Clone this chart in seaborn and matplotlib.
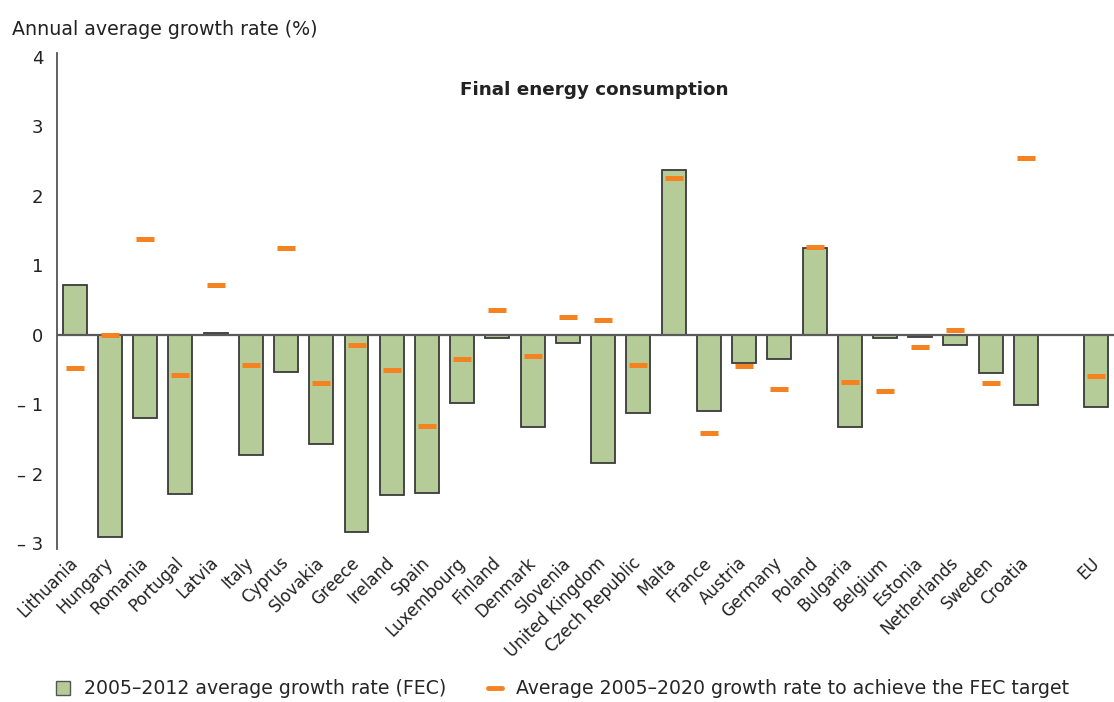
import matplotlib
matplotlib.use("Agg")
import matplotlib.pyplot as plt
from matplotlib.patches import Patch
from matplotlib.lines import Line2D
import numpy as np
import pandas as pd
import seaborn as sns

# Countries in plotted order (EU separated by one empty slot)
countries = ["Lithuania", "Hungary", "Romania", "Portugal", "Latvia", "Italy", "Cyprus",
             "Slovakia", "Greece", "Ireland", "Spain", "Luxembourg", "Finland", "Denmark",
             "Slovenia", "United Kingdom", "Czech Republic", "Malta", "France", "Austria",
             "Germany", "Poland", "Bulgaria", "Belgium", "Estonia", "Netherlands", "Sweden",
             "Croatia", "EU"]
positions = list(range(28)) + [29]

# 2005-2012 average annual growth rate of final energy consumption (%)
fec_2005_2012 = [0.72, -2.91, -1.19, -2.29, 0.03, -1.73, -0.53, -1.57, -2.83, -2.31,
                 -2.28, -0.98, -0.04, -1.33, -0.12, -1.85, -1.12, 2.37, -1.09, -0.41,
                 -0.35, 1.25, -1.33, -0.05, -0.03, -0.14, -0.55, -1.01, -1.04]

# Average 2005-2020 growth rate needed to reach the FEC target (%)
target_2005_2020 = [-0.48, 0.0, 1.38, -0.58, 0.72, -0.43, 1.25, -0.69, -0.14, -0.50,
                    -1.31, -0.35, 0.36, -0.31, 0.26, 0.22, -0.44, 2.26, -1.41, -0.45,
                    -0.78, 1.27, -0.68, -0.81, -0.17, 0.07, -0.69, 2.55, -0.59]

yticks = [4, 3, 2, 1, 0, -1, -2, -3]
ytick_labels = ["4", "3", "2", "1", "0", "\u2013 1", "\u2013 2", "\u2013 3"]

bar_color = "#b5cc98"
mark_color = "#f58220"

df = pd.DataFrame({"pos": positions, "country": countries,
                   "fec": fec_2005_2012, "target": target_2005_2020})

sns.set_style("white")
plt.rcParams["font.family"] = ["DejaVu Sans"]

fig = plt.figure(figsize=(11.14, 7.02), dpi=100)
ax = fig.add_axes([0.0512, 0.218, 0.9488, 0.706])

sns.barplot(data=df, x="pos", y="fec", native_scale=True, width=0.68,
            color=bar_color, edgecolor="#3a3a3a", linewidth=1.3, saturation=1,
            ax=ax, zorder=2)
sns.scatterplot(data=df, x="pos", y="target", marker="_", s=170, linewidth=3.6,
                color=mark_color, edgecolor=mark_color, ax=ax, zorder=4, legend=False)

ax.axhline(0, color="#5a5a5a", linewidth=1.6, zorder=3)

ax.set_xlim(-0.5, 29.5)
ax.set_ylim(-3.08, 4.05)
ax.set_yticks(yticks)
ax.set_yticklabels(ytick_labels, fontsize=13, color="#222222")
ax.set_xticks(positions)
ax.set_xticklabels(countries, rotation=45, ha="right", va="center",
                   rotation_mode="anchor", fontsize=12, color="#222222")
ax.tick_params(axis="both", length=0)
ax.tick_params(axis="y", pad=10)
ax.tick_params(axis="x", pad=8)
ax.set_xlabel("")
ax.set_ylabel("")

for side in ["top", "right", "bottom"]:
    ax.spines[side].set_visible(False)
ax.spines["left"].set_color("#555555")
ax.spines["left"].set_linewidth(1.3)

ax.text(0.508, 0.926, "Final energy consumption", transform=ax.transAxes,
        ha="center", va="center", fontsize=13.2, fontweight="bold", color="#222222")

fig.text(0.011, 0.958, "Annual average growth rate (%)", ha="left", va="center",
         fontsize=13.7, color="#222222")

handles = [
    Patch(facecolor=bar_color, edgecolor="#555555", linewidth=1.0,
          label="2005\u20132012 average growth rate (FEC)"),
    Line2D([0], [0], color=mark_color, linewidth=3.5,
           label="Average 2005\u20132020 growth rate to achieve the FEC target"),
]
fig.legend(handles=handles, loc="lower center", bbox_to_anchor=(0.505, -0.019),
           ncol=2, frameon=False, fontsize=13.6, handlelength=0.75, handleheight=0.75,
           handletextpad=0.75, columnspacing=2.2)

fig.savefig("out.png", dpi=100)
